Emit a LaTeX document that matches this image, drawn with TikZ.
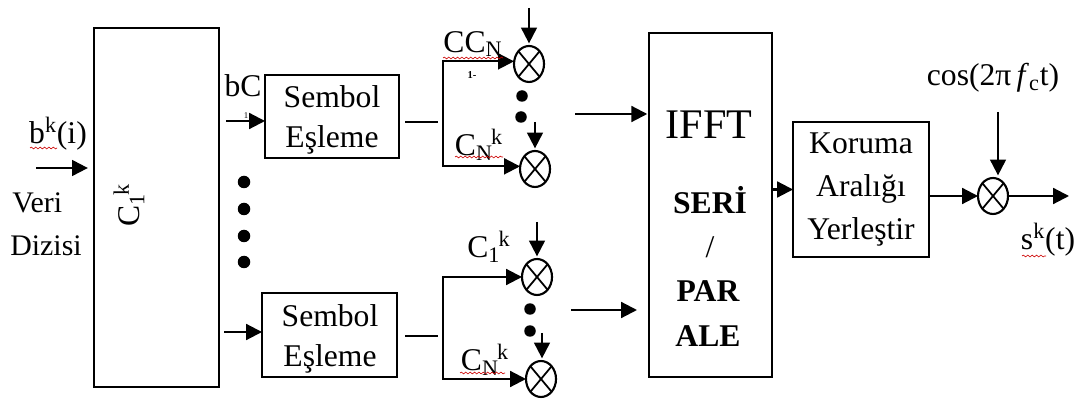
\documentclass[tikz,border=0pt]{standalone}
\usepackage{fontspec}
\setmainfont{Liberation Serif}
\usetikzlibrary{arrows.meta,shapes.geometric,decorations.pathmorphing}

\newcommand{\sz}[1]{\fontsize{#1}{#1}\selectfont}

\begin{document}
\begin{tikzpicture}[x=0.02cm,y=-0.02cm]

\tikzstyle{blockbox} = [draw,line width=1.2pt,inner sep=0,outer sep=0,align=center];
\tikzstyle{boldarrow} = [-{Triangle[length=9pt,width=9pt]},line width=1.2pt];
\tikzstyle{plainline} = [line width=1.2pt];
\tikzstyle{mixer} = [ellipse,draw,line width=1.2pt,inner sep=0,outer sep=0,minimum width=0.6cm,minimum height=0.72cm,
  path picture={\draw[line width=1pt] (path picture bounding box.north west) -- (path picture bounding box.south east)
    (path picture bounding box.north east) -- (path picture bounding box.south west);}];
\tikzstyle{bigdot} = [circle,fill=black,inner sep=0,minimum size=0.25cm];
\tikzstyle{smalldot} = [circle,fill=black,inner sep=0,minimum size=0.23cm];
\tikzstyle{label} = [inner sep=0,font=\sz{18},align=center];
\tikzstyle{squiggle} = [red!80!black,line width=0.35pt,decorate,decoration={snake,amplitude=0.5pt,segment length=2.5pt}];

\useasboundingbox (0,0) rectangle (1077,401);

\node[blockbox,minimum width=2.5cm,minimum height=7.18cm] (kod) at (156.5,207.5) {};
\node[blockbox,minimum width=2.68cm,minimum height=1.66cm] (sem1) at (332,116.5) {};
\node[blockbox,minimum width=2.7cm,minimum height=1.68cm] (sem2) at (329.5,335) {};
\node[blockbox,minimum width=2.46cm,minimum height=6.88cm] (ifft) at (710.5,205) {};
\node[blockbox,minimum width=2.72cm,minimum height=2.7cm,font=\sz{18}] (kor) at (861,189.5) {Koruma\\[6.5pt]Aralığı\\[6.5pt]Yerleştir};

\node[mixer] (m1) at (529,64) {};
\node[mixer] (m2) at (535,169) {};
\node[mixer] (m3) at (537,277) {};
\node[mixer] (m4) at (541,379) {};
\node[mixer] (m5) at (993,196) {};

\node[label] (sem1l) at (332,120) {Sembol\\[5pt]Eşleme};
\node[label] (sem2l) at (330,339) {Sembol\\[5pt]Eşleme};
\node[label,rotate=90] (kodl) at (129,205) {C\textsubscript{1}\kern-1pt\textsuperscript{k}};
\node[label,font=\sz{24}] (ifftl) at (709,125) {IFFT};
\node[label,font=\sz{18}\bfseries] (seri) at (710,200) {SERİ};
\node[label] (bolu) at (710,247) {/};
\node[label,font=\sz{18}\bfseries] (par) at (708,291) {PAR};
\node[label,font=\sz{18}\bfseries] (ale) at (708,336) {ALE};

\node[label] (bi) at (58,134) {b\textsuperscript{k}(i)};
\node[label,anchor=west,font=\sz{17}] (veri) at (12,203) {Veri};
\node[label,anchor=west,font=\sz{17}] (diz) at (10,246) {Dizisi};
\node[label] (bc) at (243,86) {bC};
\node[label,font=\sz{5}] (bir) at (246,116) {1};
\node[label] (cc) at (473,44) {CC\textsubscript{N}};
\node[label,font=\sz{6}\bfseries] (birt) at (472,75) {1-};
\node[label] (c2) at (479,145) {C\textsubscript{N}\kern-1pt\textsuperscript{k}};
\node[label] (c3) at (489,247) {C\textsubscript{1}\kern-1pt\textsuperscript{k}};
\node[label] (c4) at (485,360) {C\textsubscript{N}\kern-1pt\textsuperscript{k}};
\node[label] (cosl) at (993,78) {cos(2π\,\textit{f}\textsubscript{c}t)};
\node[label] (sk) at (1048,240) {s\textsuperscript{k}(t)};

\node[bigdot] (d1) at (244,182) {};
\node[bigdot] (d2) at (244,209) {};
\node[bigdot] (d3) at (244,236) {};
\node[bigdot] (d4) at (244,262) {};
\node[smalldot] (d5) at (522,96) {};
\node[smalldot] (d6) at (521,117) {};
\node[smalldot] (d7) at (530,309) {};
\node[smalldot] (d8) at (530,331) {};

\coordinate (gir) at (36,168);
\coordinate (c1in) at (226,121);
\coordinate (c2in) at (224,332);
\coordinate (br1) at (443,122);
\coordinate (br2) at (443,336);
\coordinate (l1a) at (405,122);
\coordinate (l1b) at (438,122);
\coordinate (l2a) at (405,336);
\coordinate (l2b) at (438,336);
\coordinate (f1) at (575,114);
\coordinate (f2) at (571,310);
\coordinate (f2e) at (637,310);
\coordinate (t1) at (529,8);
\coordinate (t2) at (535,122);
\coordinate (t3) at (537,222);
\coordinate (t4) at (542,333);
\coordinate (t5) at (998,112);
\coordinate (cik) at (1069,196);

\draw[boldarrow] (gir) -- ([xshift=-3.5pt]gir -| kod.west);
\draw[boldarrow] (c1in) -- (c1in -| sem1.west);
\draw[boldarrow] (c2in) -- (c2in -| sem2.west);
\draw[plainline] (l1a) -- (l1b);
\draw[plainline] (l2a) -- (l2b);
\draw[boldarrow] (br1) |- ([yshift=1.5pt]m1.west);
\draw[boldarrow] (br1) |- ([yshift=1.5pt]m2.west);
\draw[boldarrow] (br2) |- (m3.west);
\draw[boldarrow] (br2) |- (m4.west);
\draw[boldarrow] (f1) -- ([xshift=-1pt]f1 -| ifft.west);
\draw[boldarrow] (f2) -- (f2e);
\draw[boldarrow] (t1) -- ([yshift=1.5pt]t1 |- m1.north);
\draw[boldarrow] (t2) -- ([yshift=1.5pt]t2 |- m2.north);
\draw[boldarrow] (t3) -- ([yshift=1.5pt]t3 |- m3.north);
\draw[boldarrow] (t4) -- ([yshift=1.5pt]t4 |- m4.north);
\draw[boldarrow] (t5) -- ([yshift=1.5pt]t5 |- m5.north);
\draw[boldarrow] (ifft.east |- kor.west) -- (kor.west);
\draw[boldarrow] (kor.east |- m5) -- (m5.west);
\draw[boldarrow] (m5.east) -- (cik);

% spell check marks
\draw[squiggle] (30,148) -- (57,148);
\draw[squiggle] (443,58) -- (503,58);
\draw[squiggle] (455,157) -- (503,157);
\draw[squiggle] (460,373) -- (505,373);
\draw[squiggle] (1022,256) -- (1046,256);
\end{tikzpicture}
\end{document}
